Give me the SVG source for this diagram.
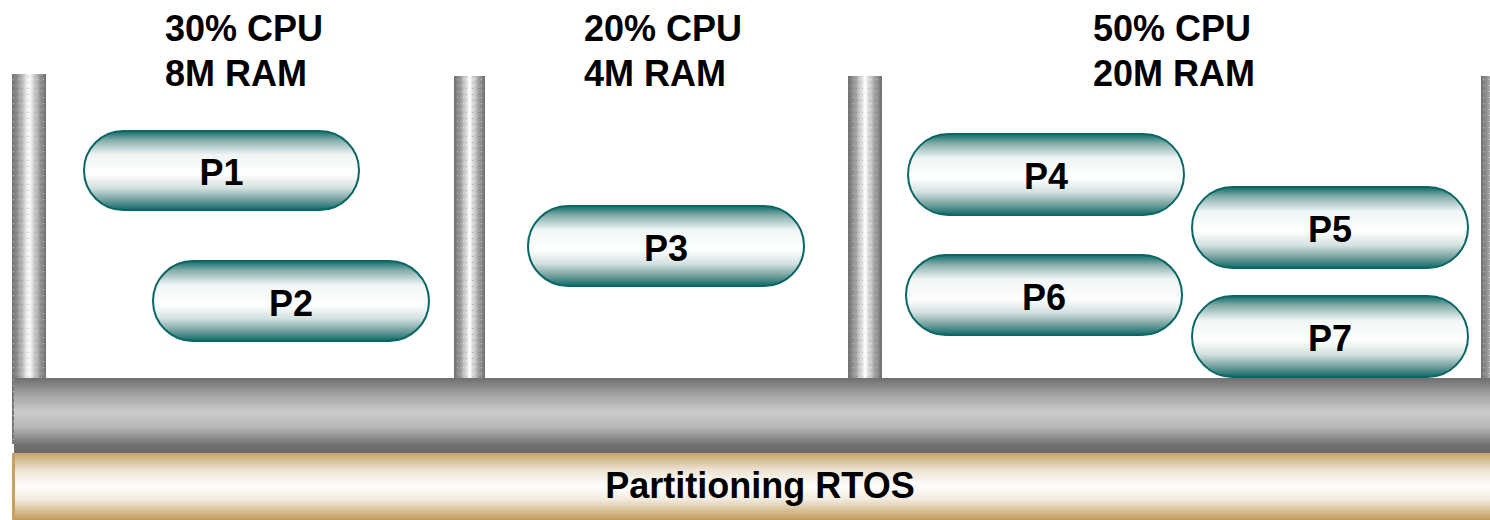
<svg xmlns="http://www.w3.org/2000/svg" width="1490" height="520" viewBox="0 0 1490 520">
<defs>
<linearGradient id="pill" x1="0" y1="0" x2="0" y2="1">
<stop offset="0" stop-color="#0e6b68"/>
<stop offset="0.12" stop-color="#86aeac"/>
<stop offset="0.3" stop-color="#f0f5f5"/>
<stop offset="0.55" stop-color="#ffffff"/>
<stop offset="0.72" stop-color="#d3e1e0"/>
<stop offset="0.88" stop-color="#6c9c9a"/>
<stop offset="1" stop-color="#0e6b68"/>
</linearGradient>
<linearGradient id="pillar" x1="0" y1="0" x2="1" y2="0">
<stop offset="0" stop-color="#707070"/>
<stop offset="0.2" stop-color="#9a9a9a"/>
<stop offset="0.5" stop-color="#ffffff"/>
<stop offset="0.8" stop-color="#a0a0a0"/>
<stop offset="1" stop-color="#6e6e6e"/>
</linearGradient>
<linearGradient id="bar" x1="0" y1="0" x2="0" y2="1">
<stop offset="0" stop-color="#6e6e6e"/>
<stop offset="0.2" stop-color="#9e9e9e"/>
<stop offset="0.45" stop-color="#cbcbcb"/>
<stop offset="0.65" stop-color="#b8b8b8"/>
<stop offset="0.9" stop-color="#6e6e6e"/>
<stop offset="1" stop-color="#6a6a6a"/>
</linearGradient>
<linearGradient id="rtos" x1="0" y1="0" x2="0" y2="1">
<stop offset="0" stop-color="#c8a46a"/>
<stop offset="0.25" stop-color="#ece2d2"/>
<stop offset="0.5" stop-color="#ffffff"/>
<stop offset="0.7" stop-color="#f1e9dc"/>
<stop offset="1" stop-color="#c19a58"/>
</linearGradient>
<pattern id="dots" width="6" height="6" patternUnits="userSpaceOnUse">
<rect x="1" y="1" width="1" height="1" fill="#ffffff" opacity="0.5"/>
<rect x="4" y="4" width="1" height="1" fill="#555555" opacity="0.4"/>
</pattern>
</defs>
<style>
.hdr{font-family:"Liberation Sans",Arial,sans-serif;font-weight:bold;font-size:36px;fill:#000}
.lbl{font-family:"Liberation Sans",Arial,sans-serif;font-weight:bold;font-size:36px;fill:#000;text-anchor:middle}
.pill{fill:url(#pill);stroke:#0a6764;stroke-width:2}
.pillar{fill:url(#pillar)}
.dots{fill:url(#dots)}
</style>
<rect width="1490" height="520" fill="#ffffff"/>
<g id="pillars">
<rect class="pillar" x="12" y="74" width="34" height="370"/>
<rect class="dots" x="12" y="74" width="34" height="370"/>
<rect class="pillar" x="454" y="76" width="31" height="302"/>
<rect class="dots" x="454" y="76" width="31" height="302"/>
<rect class="pillar" x="848" y="76" width="34" height="302"/>
<rect class="dots" x="848" y="76" width="34" height="302"/>
<rect class="pillar" x="1481" y="76" width="34" height="302"/>
<rect class="dots" x="1481" y="76" width="34" height="302"/>
</g>
<g id="headers">
<text class="hdr" x="165" y="41">30% CPU</text>
<text class="hdr" x="165" y="86">8M RAM</text>
<text class="hdr" x="584" y="41">20% CPU</text>
<text class="hdr" x="584" y="86">4M RAM</text>
<text class="hdr" x="1093" y="41">50% CPU</text>
<text class="hdr" x="1093" y="86">20M RAM</text>
</g>
<g id="P1"><rect class="pill" x="84" y="131" width="275" height="79" rx="39.5"/><text class="lbl" x="221.5" y="185">P1</text></g>
<g id="P2"><rect class="pill" x="153" y="261" width="276" height="80" rx="40"/><text class="lbl" x="291" y="316">P2</text></g>
<g id="P3"><rect class="pill" x="528" y="206" width="276" height="80" rx="40"/><text class="lbl" x="666" y="261">P3</text></g>
<g id="P4"><rect class="pill" x="908" y="134" width="276" height="81" rx="40.5"/><text class="lbl" x="1046" y="189">P4</text></g>
<g id="P5"><rect class="pill" x="1192" y="187" width="276" height="81" rx="40.5"/><text class="lbl" x="1330" y="242">P5</text></g>
<g id="P6"><rect class="pill" x="906" y="255" width="276" height="80" rx="40"/><text class="lbl" x="1044" y="310">P6</text></g>
<g id="P7"><rect class="pill" x="1192" y="296" width="276" height="81" rx="40.5"/><text class="lbl" x="1330" y="351">P7</text></g>
<g id="base">
<rect x="14" y="378" width="1476" height="75" fill="url(#bar)"/>
<rect x="12" y="453" width="1478" height="67" fill="url(#rtos)"/>
<rect x="12" y="453" width="3" height="67" fill="#c8a060"/>
<text class="lbl" x="760" y="498">Partitioning RTOS</text>
</g>
<g id="connectors"/>
</svg>
